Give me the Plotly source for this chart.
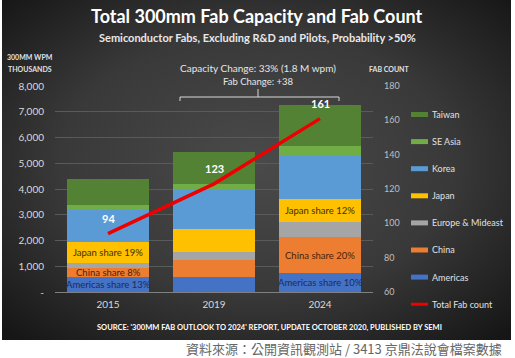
import base64
import plotly.graph_objects as go

# ---------------- data ----------------
years = ["2015", "2019", "2024"]
americas = [570, 585, 725]
china = [355, 645, 1420]
europe = [195, 325, 560]
japan = [830, 880, 910]
korea = [1225, 1515, 1680]
se_asia = [220, 235, 360]
taiwan = [1010, 1255, 1620]
fab_count = [94, 123, 161]

americas_labels = ["Americas share 13%", "", "Americas share 10%"]
china_labels = ["China share 8%", "", "China share 20%"]
japan_labels = ["Japan share 19%", "", "Japan share 12%"]

y_ticks = [0, 1000, 2000, 3000, 4000, 5000, 6000, 7000, 8000]
y_ticktext = ["-", "1,000", "2,000", "3,000", "4,000", "5,000", "6,000", "7,000", "8,000"]
y2_ticks = [60, 80, 100, 120, 140, 160, 180]

series = [
    ("Americas", americas, "#4472c4"),
    ("China", china, "#ed7d31"),
    ("Europe & Mideast", europe, "#a5a5a5"),
    ("Japan", japan, "#ffc000"),
    ("Korea", korea, "#5b9bd5"),
    ("SE Asia", se_asia, "#70ad47"),
    ("Taiwan", taiwan, "#548235"),
]
line_color = "#ee0000"

# ---------------- layout geometry ----------------
W, H = 515, 358
L, R, T, B = 55, 373, 86, 292
PW, PH = R - L, B - T


def px(x):
    return (x - L) / PW


def py(y):
    return (B - y) / PH


FONT = "Lato"

fig = go.Figure()
for name, vals, col in series:
    fig.add_trace(go.Bar(x=years, y=vals, name=name, marker=dict(color=col, line=dict(width=0)),
                         showlegend=False, hoverinfo="skip"))

fig.add_trace(go.Scatter(x=years, y=fab_count, yaxis="y2", mode="lines",
                         line=dict(color=line_color, width=3.5), showlegend=False,
                         hoverinfo="skip", name="Total Fab count"))

annotations = []

# share labels inside segments (positions from data); x given as category index
def mids(idx):
    out = []
    for i in range(len(years)):
        base = sum(series[k][1][i] for k in range(idx))
        out.append(base + series[idx][1][i] / 2)
    return out

for idx, labels, col in [(0, americas_labels, "#1c2a5e"), (1, china_labels, "#4a2208"), (3, japan_labels, "#3d3000")]:
    m = mids(idx)
    for i, t in enumerate(labels):
        if t:
            annotations.append(dict(x=i, y=m[i], xref="x", yref="y", text=t, showarrow=False,
                                    font=dict(family=FONT, size=9.5, color=col)))

# fab count labels
for i, v in enumerate(fab_count):
    annotations.append(dict(x=i, y=v, xref="x", yref="y2", text="<b>%d</b>" % v, showarrow=False,
                            yshift=15, font=dict(family=FONT, size=11, color="#ffffff")))

# titles and texts
def txt(x, y, t, size, color="#ffffff", xanchor="center", bold=False, family=FONT):
    annotations.append(dict(x=px(x), y=py(y), xref="paper", yref="paper", text=("<b>%s</b>" % t) if bold else t,
                            showarrow=False, xanchor=xanchor, yanchor="middle",
                            font=dict(family=family, size=size, color=color)))

txt(257, 16, "Total 300mm Fab Capacity and Fab Count", 18, bold=True)
txt(257, 37, "Semiconductor Fabs, Excluding R&amp;D and Pilots, Probability &gt;50%", 11, color="#e8e8e8", bold=True)
txt(30, 57, "300MM WPM", 7, color="#e0e0e0", bold=True)
txt(30, 69, "THOUSANDS", 7, color="#e0e0e0", bold=True)
txt(389, 69, "FAB COUNT", 7, color="#e0e0e0", bold=True)
txt(258, 68, "Capacity Change: 33% (1.8 M wpm)", 10, color="#e6e6e6")
txt(258, 81, "Fab Change: +38", 9.5, color="#e6e6e6")
txt(269, 327, "SOURCE: '300MM FAB OUTLOOK TO 2024' REPORT, UPDATE OCTOBER 2020, PUBLISHED BY SEMI", 7.5,
    color="#ffffff", bold=True)
txt(504, 348.5, "資料來源：公開資訊觀測站 / 3413 京鼎法說會檔案數據", 13, color="#666666", xanchor="right",
    family="Noto Sans CJK TC")

shapes = []
# bracket
bc = "#d9d9d9"
for (x0, y0, x1, y1) in [(180, 97, 339, 97), (180, 97, 180, 101), (339, 97, 339, 101), (258, 97, 258, 89)]:
    shapes.append(dict(type="line", xref="paper", yref="paper", x0=px(x0), y0=py(y0), x1=px(x1), y1=py(y1),
                       line=dict(color=bc, width=1)))

# manual legend
legend_items = list(reversed(series))
ly = 114.5
for name, vals, col in legend_items:
    shapes.append(dict(type="rect", xref="paper", yref="paper", x0=px(411), x1=px(428), y0=py(ly - 2.5),
                       y1=py(ly + 2.5), fillcolor=col, line=dict(width=0)))
    txt(430, ly, name, 9, color="#e0e0e0", xanchor="left")
    ly += 27.1
shapes.append(dict(type="line", xref="paper", yref="paper", x0=px(411), x1=px(428), y0=py(ly), y1=py(ly),
                   line=dict(color=line_color, width=3)))
txt(430, ly, "Total Fab count", 9, color="#e0e0e0", xanchor="left")

# background gradient image
svg = ('<svg xmlns="http://www.w3.org/2000/svg" width="510" height="340" preserveAspectRatio="none">'
       '<defs><radialGradient id="g" cx="50%" cy="48%" r="70%">'
       '<stop offset="0%" stop-color="#4a4a4a"/><stop offset="55%" stop-color="#393939"/>'
       '<stop offset="100%" stop-color="#161616"/></radialGradient></defs>'
       '<rect width="510" height="340" fill="url(#g)"/></svg>')
src = "data:image/svg+xml;base64," + base64.b64encode(svg.encode()).decode()
images = [dict(source=src, xref="paper", yref="paper", x=px(2), y=py(0), sizex=(511 - 2) / PW,
               sizey=340 / PH, xanchor="left", yanchor="top", sizing="stretch", layer="below")]

fig.update_layout(
    width=W, height=H,
    margin=dict(l=L, r=W - R, t=T, b=H - B, autoexpand=False),
    barmode="stack", bargap=0.23,
    paper_bgcolor="#ffffff", plot_bgcolor="rgba(0,0,0,0)",
    font=dict(family=FONT, color="#d9d9d9"),
    showlegend=False,
    xaxis=dict(type="category", range=[-0.5, 2.5], showgrid=False, showline=True, linecolor="#808080",
               linewidth=1, tickfont=dict(family=FONT, size=10, color="#d9d9d9"), ticks="",
               ticklabelstandoff=3, automargin=False),
    yaxis=dict(range=[0, 8000], tickvals=y_ticks, ticktext=y_ticktext, gridcolor="#5a5a5a", gridwidth=1,
               zeroline=False, showline=False, ticks="", ticklabelstandoff=10, automargin=False,
               tickfont=dict(family=FONT, size=10, color="#d9d9d9")),
    yaxis2=dict(range=[60, 180], tickvals=y2_ticks, overlaying="y", side="right", showgrid=False,
                zeroline=False, showline=False, ticks="", ticklabelstandoff=10, automargin=False,
                tickfont=dict(family=FONT, size=9, color="#bfbfbf")),
    annotations=annotations, shapes=shapes, images=images,
)

fig.write_html("out.html", config={"displayModeBar": False},
               post_script="document.body.style.margin='0px';")
